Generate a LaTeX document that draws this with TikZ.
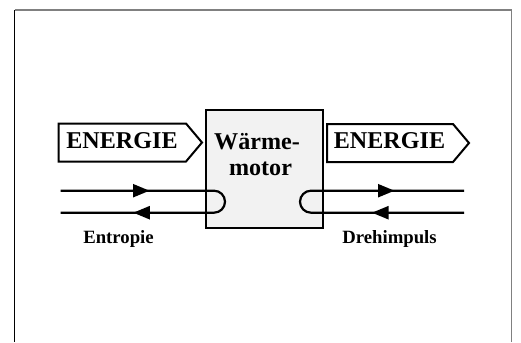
\documentclass[tikz,border=0pt]{standalone}
\usepackage{fontspec}
\setmainfont{Liberation Serif}
\usetikzlibrary{arrows.meta}
\tikzset{
  energy/.style={draw, line width=2bp, line join=miter},
  bigtxt/.style={font=\fontsize{24.2}{27}\selectfont\bfseries, inner sep=0pt, anchor=base},
  smalltxt/.style={font=\fontsize{18.8}{21}\selectfont\bfseries, inner sep=0pt, anchor=base},
  flow/.style={line width=2.2bp},
  tipR/.style={line width=2.2bp, -{Triangle[length=16.5bp,width=13bp]}},
}
\begin{document}
\begin{tikzpicture}[x=1bp,y=-1bp]
\useasboundingbox (0,0) rectangle (521,342);
% frame
\draw[black, line width=1.1bp] (14.5,10) -- (14.5,342);
\draw[gray, line width=1.5bp] (14.5,10) -- (511.7,10) -- (511.7,342);
% motor box
\node[draw, line width=2bp, fill=gray!10, minimum width=117.5bp, minimum height=118bp, inner sep=0pt] (motor) at (264.25,169) {};
\node[bigtxt] (w1) at (257,149) {Wärme-};
\node[bigtxt] (w2) at (260.5,175.5) {motor};
% energy arrows
\draw[energy] (58.5,123.5) -- (186,123.5) -- (202,142.5) -- (186,161.5) -- (58.5,161.5) -- cycle;
\node[bigtxt] (eL) at (122,148.5) {ENERGIE};
\draw[energy] (327,124) -- (453,124) -- (469,143) -- (453,162) -- (327,162) -- cycle;
\node[bigtxt] (eR) at (389.5,148.5) {ENERGIE};
% entropy loop
\coordinate (a1) at (60.5,190.7);
\coordinate (a2) at (214,190.7);
\coordinate (a3) at (60.5,212.7);
\coordinate (a1t) at (149.5,190.7);
\coordinate (a3t) at (133.3,212.7);
\draw[flow] (a1) -- (a2) arc (90:-90:11bp) -- (a3);
\draw[tipR] (a1) -- (a1t);
\draw[tipR] (a2 |- a3) -- (a3t);
% angular momentum loop
\coordinate (b1) at (464,190.7);
\coordinate (b2) at (311,190.7);
\coordinate (b3) at (464,212.7);
\coordinate (b1t) at (394.5,190.7);
\coordinate (b3t) at (372,212.7);
\draw[flow] (b1) -- (b2) arc (90:270:11bp) -- (b3);
\draw[tipR] (b2) -- (b1t);
\draw[tipR] (b3) -- (b3t);
% labels
\node[smalltxt] (lE) at (118.5,243) {Entropie};
\node[smalltxt] (lD) at (389.5,243) {Drehimpuls};
\end{tikzpicture}
\end{document}
